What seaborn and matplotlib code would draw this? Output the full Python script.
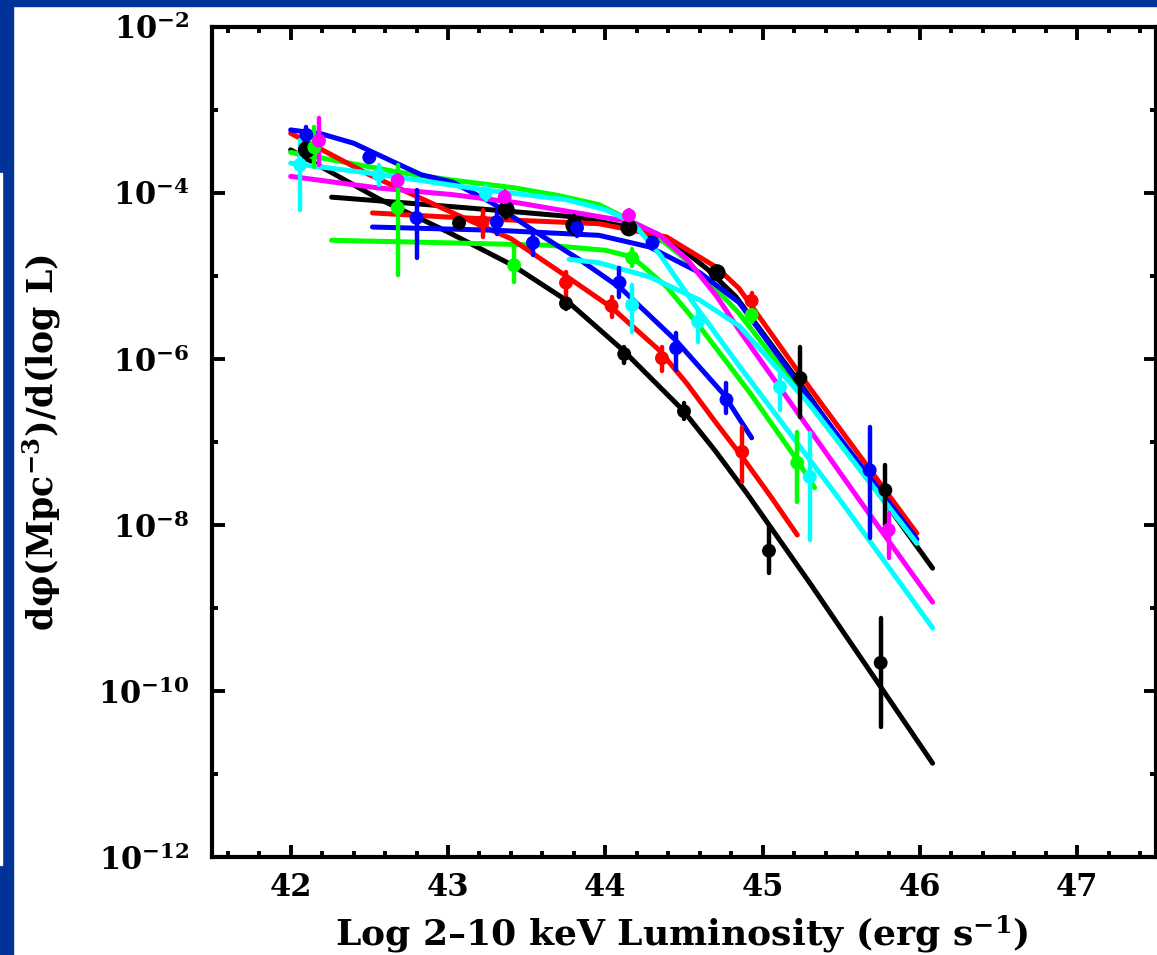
import numpy as np
import matplotlib
matplotlib.use("Agg")
import matplotlib.pyplot as plt
import seaborn as sns
from matplotlib.patches import Rectangle
from matplotlib.ticker import FixedLocator, NullFormatter

# ===== MODEL CURVES (log L, log phi) =====
black_steep_L = [42.00, 42.56, 43.00, 43.41, 43.75, 44.11, 44.49, 44.70, 44.90, 45.30, 45.75, 46.08]
black_steep_lp = [-3.48, -4.07, -4.47, -4.87, -5.29, -5.89, -6.61, -7.11, -7.62, -8.70, -9.95, -10.87]
black_upper_L = [42.26, 42.80, 43.45, 43.82, 44.17, 44.49, 44.65, 44.83, 45.24, 45.70, 46.08]
black_upper_lp = [-4.05, -4.13, -4.23, -4.29, -4.42, -4.68, -4.92, -5.25, -6.30, -7.52, -8.52]

red_steep_L = [42.00, 42.50, 43.10, 43.40, 43.75, 44.04, 44.34, 44.52, 44.70, 44.87, 45.06, 45.22]
red_steep_lp = [-3.28, -3.78, -4.30, -4.55, -5.00, -5.38, -5.89, -6.30, -6.76, -7.18, -7.68, -8.12]
red_flat_L = [42.52, 43.00, 43.45, 43.96, 44.39, 44.71, 44.85, 45.30, 45.98]
red_flat_lp = [-4.24, -4.29, -4.33, -4.37, -4.53, -4.90, -5.15, -6.35, -8.10]

blue_steep_L = [42.00, 42.20, 42.40, 42.67, 42.83, 43.03, 43.28, 43.55, 43.85, 44.10, 44.45, 44.75, 44.93]
blue_steep_lp = [-3.24, -3.29, -3.40, -3.64, -3.78, -3.87, -4.12, -4.46, -4.82, -5.15, -5.78, -6.42, -6.95]
blue_flat_L = [42.52, 43.32, 43.96, 44.28, 44.60, 44.85, 45.30, 45.98]
blue_flat_lp = [-4.41, -4.45, -4.51, -4.65, -4.96, -5.32, -6.48, -8.17]

green_top_L = [42.00, 42.69, 43.01, 43.43, 43.70, 43.96, 44.28, 44.49, 44.71, 44.85, 45.30, 45.98]
green_top_lp = [-3.51, -3.75, -3.84, -3.94, -4.03, -4.14, -4.45, -4.77, -5.17, -5.45, -6.55, -8.22]
green_flat_L = [42.26, 43.00, 43.64, 44.00, 44.17, 44.39, 44.60, 44.92, 45.22, 45.33]
green_flat_lp = [-4.57, -4.60, -4.63, -4.69, -4.77, -5.13, -5.61, -6.41, -7.22, -7.55]

cyan_long_L = [42.00, 42.58, 43.22, 43.75, 44.00, 44.17, 44.35, 44.55, 44.85, 45.50, 46.08]
cyan_long_lp = [-3.64, -3.78, -3.96, -4.08, -4.20, -4.35, -4.75, -5.30, -6.08, -7.72, -9.24]
cyan_upper_L = [43.77, 43.96, 44.28, 44.60, 44.85, 45.30, 45.98]
cyan_upper_lp = [-4.80, -4.84, -5.01, -5.29, -5.60, -6.55, -8.22]

magenta_L = [42.00, 42.56, 43.03, 43.45, 43.82, 44.17, 44.34, 44.52, 44.71, 44.85, 45.66, 46.08]
magenta_lp = [-3.80, -3.94, -4.02, -4.12, -4.24, -4.35, -4.50, -4.80, -5.25, -5.65, -7.82, -8.93]

# ===== DATA POINTS (log L, log phi, lower, upper) =====
black_pt_L = [42.10, 43.07, 43.37, 43.80, 44.15, 44.71, 45.24, 45.78, 43.75, 44.12, 44.50, 45.04, 45.75]
black_pt_lp = [-3.48, -4.36, -4.20, -4.39, -4.42, -4.96, -6.23, -7.58, -5.33, -5.94, -6.63, -8.31, -9.66]
black_pt_lo = [-3.60, -4.42, -4.30, -4.50, -4.47, -5.00, -6.70, -8.00, -5.40, -6.05, -6.72, -8.58, -10.43]
black_pt_hi = [-3.35, -4.30, -4.12, -4.28, -4.37, -4.92, -5.86, -7.28, -5.25, -5.85, -6.53, -8.02, -9.12]
black_pt_big = [1, 0, 1, 1, 1, 1, 0, 0, 0, 0, 0, 0, 0]

red_pt_L = [43.22, 43.75, 44.04, 44.36, 44.87, 44.93]
red_pt_lp = [-4.35, -5.08, -5.36, -5.99, -7.12, -5.30]
red_pt_lo = [-4.53, -5.25, -5.50, -6.15, -7.48, -5.40]
red_pt_hi = [-4.20, -4.95, -5.25, -5.85, -6.82, -5.20]

blue_pt_L = [42.10, 42.50, 42.80, 43.31, 43.54, 43.82, 44.09, 44.30, 44.45, 44.77, 45.68]
blue_pt_lp = [-3.30, -3.57, -4.30, -4.35, -4.60, -4.42, -5.08, -4.60, -5.87, -6.49, -7.34]
blue_pt_lo = [-3.52, -3.62, -4.78, -4.50, -4.75, -4.52, -5.25, -4.66, -6.13, -6.65, -8.16]
blue_pt_hi = [-3.20, -3.52, -3.96, -4.22, -4.45, -4.33, -4.90, -4.54, -5.69, -6.29, -6.82]

green_pt_L = [42.15, 42.68, 43.42, 44.17, 44.93, 45.22]
green_pt_lp = [-3.45, -4.18, -4.87, -4.78, -5.47, -7.25]
green_pt_lo = [-3.69, -4.99, -5.07, -4.88, -5.55, -7.72]
green_pt_hi = [-3.20, -3.66, -4.65, -4.68, -5.39, -6.88]

cyan_pt_L = [42.06, 42.56, 43.24, 44.17, 44.59, 45.11, 45.30]
cyan_pt_lp = [-3.66, -3.78, -4.00, -5.35, -5.55, -6.34, -7.42]
cyan_pt_lo = [-4.20, -3.90, -4.08, -5.67, -5.80, -6.61, -8.18]
cyan_pt_hi = [-3.36, -3.66, -3.92, -5.11, -5.43, -6.17, -6.89]

magenta_pt_L = [42.18, 42.68, 43.36, 44.15, 45.80]
magenta_pt_lp = [-3.37, -3.85, -4.05, -4.27, -8.06]
magenta_pt_lo = [-3.66, -3.92, -4.12, -4.33, -8.40]
magenta_pt_hi = [-3.10, -3.78, -3.98, -4.21, -7.86]

x_ticks = [42, 43, 44, 45, 46, 47]
y_ticks = [1e-12, 1e-10, 1e-8, 1e-6, 1e-4, 1e-2]
y_tick_labels = ["10$^{-12}$", "10$^{-10}$", "10$^{-8}$", "10$^{-6}$", "10$^{-4}$", "10$^{-2}$"]

# ===== STYLE =====
sns.set_style("ticks")
plt.rcParams["font.family"] = ["DejaVu Serif"]
plt.rcParams["font.weight"] = "bold"
plt.rcParams["text.color"] = "black"
plt.rcParams["axes.labelcolor"] = "black"
plt.rcParams["axes.edgecolor"] = "black"
plt.rcParams["xtick.color"] = "black"
plt.rcParams["ytick.color"] = "black"
plt.rcParams["mathtext.fontset"] = "custom"
plt.rcParams["mathtext.rm"] = "DejaVu Serif:bold"
plt.rcParams["mathtext.it"] = "DejaVu Serif:bold"
plt.rcParams["mathtext.bf"] = "DejaVu Serif:bold"
plt.rcParams["mathtext.default"] = "rm"

fig = plt.figure(figsize=(11.57, 9.55), dpi=100)
fig.patch.set_facecolor("white")
slide_blue = "#003399"
fig.patches.append(Rectangle((0, 1 - 6 / 955), 1, 6 / 955, transform=fig.transFigure,
                             color=slide_blue, zorder=0))
fig.patches.append(Rectangle((0, 0), 13 / 1157, 1, transform=fig.transFigure,
                             color=slide_blue, zorder=0))
fig.patches.append(Rectangle((0, 90 / 955), 2 / 1157, 692 / 955, transform=fig.transFigure,
                             color="white", zorder=1))

ax = fig.add_axes([212 / 1157, 98 / 955, 944 / 1157, 830 / 955])

LW = 3.6
curves = [
    (black_steep_L, black_steep_lp, "black"),
    (black_upper_L, black_upper_lp, "black"),
    (green_top_L, green_top_lp, "#00ff00"),
    (green_flat_L, green_flat_lp, "#00ff00"),
    (red_steep_L, red_steep_lp, "#ff0000"),
    (red_flat_L, red_flat_lp, "#ff0000"),
    (blue_steep_L, blue_steep_lp, "#0000ff"),
    (blue_flat_L, blue_flat_lp, "#0000ff"),
    (magenta_L, magenta_lp, "#ff00ff"),
    (cyan_long_L, cyan_long_lp, "#00ffff"),
    (cyan_upper_L, cyan_upper_lp, "#00ffff"),
]
for L, lp, c in curves:
    sns.lineplot(x=L, y=10 ** np.array(lp), color=c, lw=LW, sort=False,
                 estimator=None, ax=ax, solid_capstyle="round", solid_joinstyle="round")

points = [
    (black_pt_L, black_pt_lp, black_pt_lo, black_pt_hi, "black"),
    (green_pt_L, green_pt_lp, green_pt_lo, green_pt_hi, "#00ff00"),
    (red_pt_L, red_pt_lp, red_pt_lo, red_pt_hi, "#ff0000"),
    (blue_pt_L, blue_pt_lp, blue_pt_lo, blue_pt_hi, "#0000ff"),
    (magenta_pt_L, magenta_pt_lp, magenta_pt_lo, magenta_pt_hi, "#ff00ff"),
    (cyan_pt_L, cyan_pt_lp, cyan_pt_lo, cyan_pt_hi, "#00ffff"),
]
for L, lp, lo, hi, c in points:
    ax.vlines(L, 10 ** np.array(lo), 10 ** np.array(hi), color=c, lw=3.2, zorder=3,
              capstyle="round")
    sizes = [150 if (c == "black" and b) else 100
             for b in (black_pt_big if c == "black" else [0] * len(L))]
    sns.scatterplot(x=L, y=10 ** np.array(lp), color=c, s=sizes, linewidth=0, ax=ax,
                    zorder=4, legend=False)

# ===== AXES =====
ax.set_yscale("log")
ax.set_xlim(41.5, 47.5)
ax.set_ylim(1e-12, 1e-2)
ax.xaxis.set_major_locator(FixedLocator(x_ticks))
ax.xaxis.set_minor_locator(FixedLocator(np.arange(41.6, 47.5, 0.2)))
ax.yaxis.set_major_locator(FixedLocator(y_ticks))
ax.yaxis.set_minor_locator(FixedLocator([1e-11, 1e-9, 1e-7, 1e-5, 1e-3]))
ax.yaxis.set_minor_formatter(NullFormatter())
ax.set_xticklabels([str(t) for t in x_ticks], fontsize=22, fontweight="bold")
ax.set_yticklabels(y_tick_labels, fontsize=22, fontweight="bold")
ax.tick_params(which="both", direction="in", top=True, right=True, width=2.8)
ax.tick_params(which="major", length=9)
ax.tick_params(which="minor", length=4.5)
ax.tick_params(axis="y", which="major", pad=16)
ax.tick_params(axis="x", which="major", pad=11)
for sp in ax.spines.values():
    sp.set_linewidth(3.0)

ax.set_xlabel("Log 2\u201310 keV Luminosity (erg s$^{-1}$)", fontsize=26, fontweight="bold")
ax.set_ylabel("d\u03c6(Mpc$^{-3}$)/d(log L)", fontsize=25, fontweight="bold")
ax.xaxis.set_label_coords(0.498, -0.068)
ax.yaxis.set_label_coords(-0.158, 0.5)

fig.savefig("out.png", dpi=100)
